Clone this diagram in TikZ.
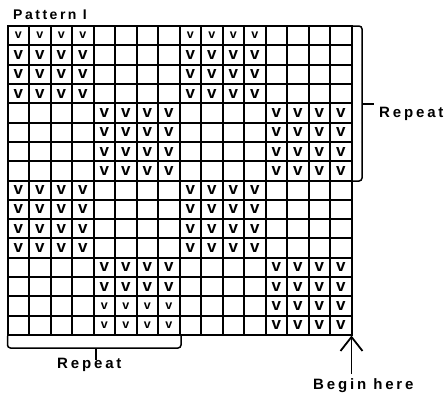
\documentclass[tikz,border=0pt]{standalone}
\usepackage{fontspec}
\setmainfont{Liberation Sans}
\newfontfamily\spacedfont{Liberation Sans}[LetterSpace=19]
\newfontfamily\titlefont{Liberation Sans}[LetterSpace=18]
\usetikzlibrary{arrows.meta}

\begin{document}
\begin{tikzpicture}[x=1pt, y=-1pt,
    gridline/.style={line width=2pt, line cap=rect},
    bigv/.style={inner sep=0pt, font=\fontsize{17}{17}\selectfont\bfseries},
    smallv/.style={inner sep=0pt, font=\fontsize{12.5}{12.5}\selectfont\bfseries},
    notetext/.style={inner sep=0pt, anchor=base west, font=\spacedfont\fontsize{15}{15}\selectfont\bfseries},
    bracket/.style={line width=1.5pt, rounded corners=3pt},
    startarrow/.style={line width=1.8pt, -{Straight Barb[length=14pt, width=22pt]}}
]
    \useasboundingbox (0,0) rectangle (444,392);

    % grid 16 x 16
    \foreach \i in {0,...,16} {
        \draw[gridline] ({7.5+\i*21.5},26) -- ({7.5+\i*21.5},335);
        \draw[gridline] (7.5,{26+\i*19.3125}) -- (351.5,{26+\i*19.3125});
    }

    % stitches
    \foreach \r in {1,...,16} {
        \foreach \c in {1,...,16} {
            \pgfmathtruncatemacro\blk{mod(int((\r-1)/4)+int((\c-1)/4),2)}
            \pgfmathtruncatemacro\sml{(\r==1) || (\r>14 && \c>4 && \c<9)}
            \ifnum\blk=0
                \ifnum\sml=1
                    \node[smallv, name=v-\r-\c] at ({7.5+(\c-0.5)*21.5},{26+(\r-0.5)*19.3125}) {v};
                \else
                    \node[bigv, name=v-\r-\c] at ({7.5+(\c-0.5)*21.5},{26+(\r-0.5)*19.3125}) {v};
                \fi
            \fi
        }
    }

    \node[notetext, font=\titlefont\fontsize{14}{14}\selectfont\bfseries, name=title] at (13,19.5) {Pattern I};

    % right repeat
    \draw[bracket] (352,26) -| (362,181) -- (352,181);
    \draw[bracket] (362,104) -- (374,104);
    \node[notetext, name=reprow] at (379,117) {Repeat};

    % bottom repeat
    \draw[bracket] (7.5,336) |- (181,348) -- (181,336);
    \draw[bracket] (96,348) -- (96,360);
    \node[notetext, name=repcol] at (57,368) {Repeat};

    \coordinate (corner) at (351.5,335.5);
    \coordinate (tail) at (351.5,374);
    \draw[startarrow] (tail) -- (corner);
    \node[notetext, name=begin] at (313,389.5) {Begin here};

\end{tikzpicture}
\end{document}
